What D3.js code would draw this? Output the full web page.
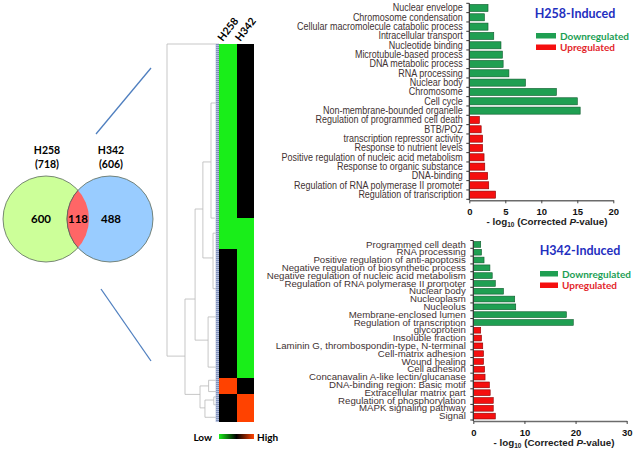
<!DOCTYPE html>
<html>
<head>
<meta charset="utf-8">
<script src="https://cdn.jsdelivr.net/npm/d3@7"></script>
<style>
  body { margin: 0; background: #fff; }
  svg { display: block; }
</style>
</head>
<body>
<div id="figure"></div>
<script>
var svgWidth = 635;
var svgHeight = 451;

// Venn diagram counts
var vennSets = ["H258", "H342"];
var vennTotals = [718, 606];
var vennOnly = [600, 488];
var vennShared = 118;

// heatmap blocks, top to bottom (number of genes in each block)
var heatColumns = ["H258", "H342"];
var blockGenes = [555, 99, 411, 51, 89];
var h258Block = [-1, -1, 0, 1, 0];
var h342Block = [0, -1, -1, 0, 1];

// dendrogram: id, parent, height (0 leaves .. 1 root), row (gene index)
var dendroId     = ["root", "t", "n1", "n2", "n3", "n4", "n5", "n6", "n7", "c1", "c2", "c3", "c4", "c5", "c6", "n8", "n9", "c7", "c8", "n10", "c9", "c10", "c11"];
var dendroParent = [null, "root", "root", "n1", "n1", "n2", "n2", "n4", "n4", "n6", "n6", "n7", "n7", "n5", "n5", "n3", "n3", "n8", "n8", "n9", "n9", "n10", "n10"];
var dendroHeight = [1, 0, 0.654, 0.46, 0.365, 0.31, 0.21, 0.154, 0.115, 0.05, 0.08, 0.05, 0.05, 0.06, 0.05, 0.2, 0.27, 0.06, 0.05, 0.1, 0.04, 0.03, 0.03];
var dendroRow    = [0, 0, 995, 813, 1117, 526, 944, 376, 682, 188, 555, 603, 780, 870, 1030, 1090, 1160, 1072, 1108, 1135, 1190, 1125, 1150];

// H258-induced GO terms
var h258DownTerms = ["Nuclear envelope", "Chromosome condensation", "Cellular macromolecule catabolic process",
  "Intracellular transport", "Nucleotide binding", "Microtubule-based process", "DNA metabolic process",
  "RNA processing", "Nuclear body", "Chromosome", "Cell cycle", "Non-membrane-bounded organelle"];
var h258DownValues = [2.6, 2.1, 2.6, 3.4, 4.4, 4.6, 4.7, 5.5, 7.8, 12.1, 15.0, 15.4];
var h258UpTerms = ["Regulation of programmed cell death", "BTB/POZ", "transcription repressor activity",
  "Response to nutrient levels", "Positive regulation of nucleic acid metabolism", "Response to organic substance",
  "DNA-binding", "Regulation of RNA polymerase II promoter", "Regulation of transcription"];
var h258UpValues = [1.4, 1.65, 1.85, 1.85, 2.05, 2.15, 2.55, 2.7, 3.65];

// H342-induced GO terms
var h342DownTerms = ["Programmed cell death", "RNA processing", "Positive regulation of anti-apoptosis",
  "Negative regulation of biosynthetic process", "Negative regulation of nucleic acid metabolism",
  "Regulation of RNA polymerase II promoter", "Nuclear body", "Nucleoplasm", "Nucleolus",
  "Membrane-enclosed lumen", "Regulation of transcription"];
var h342DownValues = [1.45, 1.6, 2.1, 3.25, 3.7, 4.3, 5.9, 8.1, 8.3, 18.2, 19.55];
var h342UpTerms = ["glycoprotein", "Insoluble fraction", "Laminin G, thrombospondin-type, N-terminal",
  "Cell-matrix adhesion", "Wound healing", "Cell adhesion", "Concanavalin A-like lectin/glucanase",
  "DNA-binding region: Basic motif", "Extracellular matrix part", "Regulation of phosphorylation",
  "MAPK signaling pathway", "Signal"];
var h342UpValues = [1.45, 1.6, 1.85, 2.0, 2.0, 2.2, 2.3, 3.15, 3.3, 3.9, 3.9, 4.3];

var h258Ticks = [0, 5, 10, 15, 20];
var h342Ticks = [0, 10, 20, 30];

var greenBar = "#1f9f52", redBar = "#f50f0f";
var labelFont = "'Liberation Sans', Arial, sans-serif";
var boldFont = "Lato, 'Open Sans', sans-serif";

var svg = d3.select("#figure")
  .append("svg")
  .attr("width", svgWidth)
  .attr("height", svgHeight);

// ---------- Venn diagram ----------
var vennX = d3.scaleOrdinal().domain(vennSets).range([46, 110]);
var vennY = 219, vennR = 43;
var vennFill = ["#ccff99", "#99ccff"];

var defs = svg.append("defs");
defs.append("clipPath").attr("id", "clipLeft")
  .append("circle")
  .attr("cx", vennX("H258")).attr("cy", vennY).attr("r", vennR);

vennSets.forEach(function(s, i) {
  svg.append("circle")
    .attr("cx", vennX(s)).attr("cy", vennY).attr("r", vennR)
    .attr("fill", vennFill[i])
    .attr("stroke", "#5a6a5a")
    .attr("stroke-width", 0.8);
});
// shared area
svg.append("circle")
  .attr("cx", vennX("H342")).attr("cy", vennY).attr("r", vennR)
  .attr("clip-path", "url(#clipLeft)")
  .attr("fill", "#ff6666")
  .attr("stroke", "#5a5a5a")
  .attr("stroke-width", 0.8);

vennSets.forEach(function(s, i) {
  svg.append("text")
    .attr("x", vennX(s) + 1).attr("y", 154)
    .attr("text-anchor", "middle")
    .attr("font-family", boldFont).attr("font-weight", "bold").attr("font-size", "10.5px")
    .text(s);
  svg.append("text")
    .attr("x", vennX(s) + 1).attr("y", 168)
    .attr("text-anchor", "middle")
    .attr("font-family", boldFont).attr("font-weight", "bold").attr("font-size", "10.5px")
    .text("(" + vennTotals[i] + ")");
});
var vennNumX = [41, 111];
vennOnly.forEach(function(v, i) {
  svg.append("text")
    .attr("x", vennNumX[i]).attr("y", vennY + 4)
    .attr("text-anchor", "middle")
    .attr("font-family", boldFont).attr("font-weight", "bold").attr("font-size", "11.5px")
    .text(v);
});
svg.append("text")
  .attr("x", 78).attr("y", vennY + 4)
  .attr("text-anchor", "middle")
  .attr("font-family", boldFont).attr("font-weight", "bold").attr("font-size", "11.5px")
  .text(vennShared);

// zoom lines from Venn to heatmap
svg.append("line").attr("x1", 96).attr("y1", 134).attr("x2", 151).attr("y2", 68)
  .attr("stroke", "#4f7fbf").attr("stroke-width", 1.3);
svg.append("line").attr("x1", 101).attr("y1", 289).attr("x2", 151).attr("y2", 361)
  .attr("stroke", "#4f7fbf").attr("stroke-width", 1.3);

// ---------- Heatmap ----------
var totalGenes = d3.sum(blockGenes);
var rowScale = d3.scaleLinear().domain([0, totalGenes]).range([44, 422]);
var colScale = d3.scaleBand().domain(heatColumns).range([219, 254]);
var heatColor = d3.scaleLinear().domain([-1, 0, 1]).range(["#19ee19", "#000000", "#ff4200"]);

var blockStart = [];
var acc = 0;
blockGenes.forEach(function(n) { blockStart.push(acc); acc += n; });

var heatG = svg.append("g");
[h258Block, h342Block].forEach(function(vals, c) {
  heatG.selectAll(null)
    .data(vals)
    .enter()
    .append("rect")
    .attr("x", colScale(heatColumns[c]))
    .attr("width", colScale.bandwidth())
    .attr("y", (d, i) => rowScale(blockStart[i]))
    .attr("height", (d, i) => rowScale(blockStart[i] + blockGenes[i]) - rowScale(blockStart[i]))
    .attr("fill", d => heatColor(d))
    .attr("shape-rendering", "crispEdges");
});

// column labels
heatColumns.forEach(function(c) {
  svg.append("text")
    .attr("transform", `translate(${colScale(c) + colScale.bandwidth() / 2 - 5}, 42) rotate(-52)`)
    .attr("font-family", boldFont).attr("font-weight", "bold").attr("font-size", "10.5px")
    .text(c);
});

// ---------- Dendrogram ----------
var hScale = d3.scaleLinear().domain([0, 1]).range([219, 167]);
var nodeById = {};
dendroId.forEach(function(id, i) {
  nodeById[id] = { id: id, parent: dendroParent[i], h: dendroHeight[i], row: dendroRow[i], kids: [] };
});
dendroId.forEach(function(id) {
  var n = nodeById[id];
  if (n.parent) nodeById[n.parent].kids.push(n);
});

var dendroG = svg.append("g")
  .attr("stroke", "#b9b9b9")
  .attr("stroke-width", 0.8)
  .attr("fill", "none");

dendroId.forEach(function(id) {
  var n = nodeById[id];
  if (n.kids.length) {
    var rows = n.kids.map(k => k.row);
    dendroG.append("line")
      .attr("x1", hScale(n.h)).attr("x2", hScale(n.h))
      .attr("y1", rowScale(d3.min(rows))).attr("y2", rowScale(d3.max(rows)));
    n.kids.forEach(function(k) {
      dendroG.append("line")
        .attr("x1", hScale(n.h)).attr("x2", hScale(k.h))
        .attr("y1", rowScale(k.row)).attr("y2", rowScale(k.row));
    });
  }
});

// dense leaf fringe next to the heatmap
svg.append("rect")
  .attr("x", hScale(0.065)).attr("y", rowScale(0))
  .attr("width", hScale(0) - hScale(0.065))
  .attr("height", rowScale(totalGenes) - rowScale(0))
  .attr("fill", "#b4c0dc");
[0.015, 0.04].forEach(function(h) {
  svg.append("line")
    .attr("x1", hScale(h)).attr("x2", hScale(h))
    .attr("y1", rowScale(0)).attr("y2", rowScale(totalGenes))
    .attr("stroke", "#5d72a4").attr("stroke-width", 1)
    .attr("stroke-dasharray", "1,1");
});

// colour key
var grad = defs.append("linearGradient").attr("id", "keyGrad");
heatColor.domain().forEach(function(v, i) {
  grad.append("stop").attr("offset", (i * 50) + "%").attr("stop-color", heatColor(v));
});
svg.append("rect")
  .attr("x", 219).attr("y", 434).attr("width", 35).attr("height", 5)
  .attr("fill", "url(#keyGrad)");
svg.append("text").attr("x", 212).attr("y", 441).attr("text-anchor", "end")
  .attr("font-family", boldFont).attr("font-weight", "bold").attr("font-size", "10px")
  .text("Low");
svg.append("text").attr("x", 257).attr("y", 441)
  .attr("font-family", boldFont).attr("font-weight", "bold").attr("font-size", "10px")
  .text("High");

// ---------- Bar charts ----------
function drawBars(cfg) {
  var terms = cfg.downTerms.concat(cfg.upTerms);
  var values = cfg.downValues.concat(cfg.upValues);
  var isDown = terms.map((t, i) => i < cfg.downTerms.length);

  var x = d3.scaleLinear().domain([0, d3.max(cfg.ticks)]).range([cfg.x0, cfg.x1]);
  var y = d3.scaleBand().domain(d3.range(terms.length)).range([cfg.y0, cfg.y1])
    .paddingInner(cfg.pad).paddingOuter(cfg.pad / 2);

  var g = svg.append("g");

  g.selectAll(".bar")
    .data(values)
    .enter()
    .append("rect")
    .attr("x", x(0))
    .attr("y", (d, i) => y(i))
    .attr("width", d => x(d) - x(0))
    .attr("height", y.bandwidth())
    .attr("fill", (d, i) => isDown[i] ? greenBar : redBar)
    .attr("stroke", (d, i) => isDown[i] ? "#0e5a2c" : "#8a0000")
    .attr("stroke-width", 0.6);

  // category labels
  g.selectAll(".lbl")
    .data(terms)
    .enter()
    .append("text")
    .attr("transform", (d, i) => `translate(${x(0) - cfg.labelGap}, ${y(i) + y.bandwidth() / 2 + cfg.baseShift}) scale(${cfg.sx},1)`)
    .attr("text-anchor", "end")
    .attr("font-family", labelFont)
    .attr("font-size", cfg.fontSize)
    .attr("fill", "#3f3232")
    .text(d => d);

  // y axis line with ticks between categories
  g.append("line")
    .attr("x1", x(0)).attr("x2", x(0))
    .attr("y1", cfg.y0).attr("y2", cfg.y1 + 1)
    .attr("stroke", "#333").attr("stroke-width", 1.2);
  d3.range(terms.length + 1).forEach(function(i) {
    var yy = cfg.y0 + i * y.step();
    g.append("line")
      .attr("x1", x(0) - 3).attr("x2", x(0))
      .attr("y1", yy).attr("y2", yy)
      .attr("stroke", "#333").attr("stroke-width", 1);
  });

  // x axis
  var xAxis = g.append("g")
    .attr("transform", `translate(0, ${cfg.y1 + 1})`)
    .call(d3.axisBottom(x).tickValues(cfg.ticks).tickSize(3).tickSizeOuter(0));
  xAxis.select(".domain").attr("stroke", "#6b6b6b").attr("stroke-width", 1.6);
  xAxis.selectAll(".tick line").attr("stroke", "#444");
  xAxis.selectAll("text")
    .attr("font-family", labelFont).attr("font-weight", "bold").attr("font-size", "9.5px")
    .attr("fill", "#111").attr("dy", "0.95em");

  var title = g.append("text")
    .attr("x", cfg.axisTitleX).attr("y", cfg.y1 + 26)
    .attr("text-anchor", "middle")
    .attr("font-family", labelFont).attr("font-weight", "bold").attr("font-size", "9.8px")
    .attr("fill", "#222");
  title.append("tspan").text("- log");
  title.append("tspan").attr("font-size", "6.5px").attr("dy", 2).text("10");
  title.append("tspan").attr("dy", -2).text(" (Corrected ");
  title.append("tspan").attr("font-style", "italic").text("P");
  title.append("tspan").text("-value)");

  // legend
  g.append("text")
    .attr("x", cfg.titleX).attr("y", cfg.titleY)
    .attr("text-anchor", "middle")
    .attr("font-family", boldFont).attr("font-weight", "bold").attr("font-size", "12.5px")
    .attr("fill", "#1f2fbf")
    .text(cfg.name);
  var legendItems = [["Downregulated", greenBar, "#1c9e54"], ["Upregulated", redBar, "#e3262b"]];
  legendItems.forEach(function(item, i) {
    var ly = cfg.legendY + i * 11.5;
    g.append("rect")
      .attr("x", cfg.legendX).attr("y", ly - 3)
      .attr("width", cfg.legendW).attr("height", 5.5)
      .attr("fill", item[1]);
    g.append("text")
      .attr("x", cfg.legendX + cfg.legendW + 4).attr("y", ly + 3.5)
      .attr("font-family", boldFont).attr("font-weight", "bold").attr("font-size", "10px")
      .attr("fill", item[2])
      .text(item[0]);
  });
}

drawBars({
  name: "H258-Induced",
  downTerms: h258DownTerms, downValues: h258DownValues,
  upTerms: h258UpTerms, upValues: h258UpValues,
  ticks: h258Ticks,
  x0: 469.3, x1: 613.3, y0: 3.3, y1: 199.3, pad: 0.24,
  labelGap: 6.5, sx: 0.9, fontSize: "10px", baseShift: 3.4,
  axisTitleX: 547, titleX: 575, titleY: 17.5,
  legendX: 536, legendW: 20, legendY: 36
});

drawBars({
  name: "H342-Induced",
  downTerms: h342DownTerms, downValues: h342DownValues,
  upTerms: h342UpTerms, upValues: h342UpValues,
  ticks: h342Ticks,
  x0: 473.3, x1: 626.7, y0: 240.5, y1: 420, pad: 0.26,
  labelGap: 7.5, sx: 1.04, fontSize: "9.3px", baseShift: 3.2,
  axisTitleX: 554, titleX: 580, titleY: 255,
  legendX: 540, legendW: 18, legendY: 274
});
</script>
</body>
</html>
